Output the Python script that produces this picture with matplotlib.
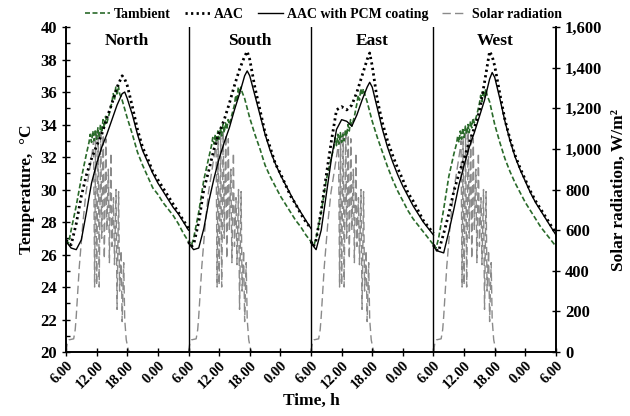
import numpy as np
import matplotlib
matplotlib.use('Agg')
import matplotlib.pyplot as plt
from matplotlib.ticker import MultipleLocator, FixedLocator

plt.rcParams['font.family'] = ['Liberation Serif', 'DejaVu Serif']
plt.rcParams['font.weight'] = 'bold'

panels = ['North', 'South', 'East', 'West']

# hours after 6:00, ambient temperature (finer where the record is noisy)
t_amb = [0, 0.5, 1, 2, 3, 4, 4.5, 4.75, 5, 5.25, 5.5, 5.75, 6, 6.25, 6.5, 6.75,
         7, 7.25, 7.5, 7.75, 8, 8.5, 9, 9.25, 9.5, 9.75, 10, 10.25, 10.5, 11,
         12, 13, 14, 15, 16, 17, 18, 19, 20, 21, 22, 23, 24]
amb_north = [26.9, 26.7, 27.5, 29.0, 30.7, 32.2, 32.9, 33.4, 32.9, 33.6, 33.0, 33.7, 33.1, 33.8, 33.2, 34.0,
             33.5, 34.3, 33.8, 34.5, 34.1, 34.7, 35.4, 35.9, 35.5, 36.3, 35.8, 36.4, 35.9, 35.5,
             34.4, 33.4, 32.3, 31.5, 30.8, 30.1, 29.7, 29.2, 28.8, 28.4, 27.9, 27.3, 26.8]
amb_south = [26.8, 26.5, 27.0, 28.6, 30.6, 32.0, 32.7, 33.2, 32.8, 33.4, 32.9, 33.6, 33.1, 33.8, 33.3, 34.0,
             33.5, 34.1, 33.7, 34.3, 34.0, 34.6, 35.2, 35.8, 35.4, 36.3, 35.9, 36.3, 36.0, 35.6,
             34.4, 33.4, 32.5, 31.5, 30.8, 30.2, 29.6, 29.1, 28.6, 28.1, 27.7, 27.2, 26.8]
amb_east = [26.8, 26.5, 27.0, 28.6, 30.6, 32.0, 32.6, 33.2, 32.7, 33.4, 32.8, 33.5, 32.9, 33.4, 33.0, 33.7,
            33.3, 34.0, 33.6, 34.3, 33.9, 34.5, 35.3, 35.8, 35.5, 36.2, 35.8, 36.2, 35.9, 35.4,
            34.2, 33.2, 32.3, 31.4, 30.6, 29.9, 29.3, 28.7, 28.2, 27.8, 27.4, 27.0, 26.6]
amb_west = [26.6, 26.4, 27.0, 28.8, 30.8, 32.2, 32.8, 33.3, 32.9, 33.6, 33.1, 33.8, 33.2, 33.9, 33.4, 34.0,
            33.5, 34.2, 33.8, 34.4, 34.1, 34.6, 35.3, 35.8, 35.4, 36.1, 35.7, 36.2, 35.8, 35.4,
            34.0, 32.9, 31.9, 31.1, 30.4, 29.8, 29.2, 28.7, 28.2, 27.7, 27.3, 26.9, 26.5]

# hours after 6:00 for the wall surface temperatures
t_wall = [0, 0.5, 1, 2, 3, 4, 5, 6, 7, 8, 9, 10, 11, 11.5,
          12, 13, 14, 15, 16, 17, 18, 19, 20, 21, 22, 23, 24]
aac_north = [26.9, 26.7, 26.6, 27.9, 29.6, 30.9, 31.9, 32.7, 33.4, 34.4, 35.3, 36.3, 37.0, 36.8,
             36.4, 35.1, 33.7, 32.6, 31.9, 31.1, 30.6, 30.1, 29.6, 29.1, 28.6, 28.1, 27.6]
aac_south = [26.8, 26.5, 26.6, 28.0, 30.0, 31.2, 32.5, 33.5, 34.3, 35.3, 36.4, 37.4, 38.2, 38.5,
             38.0, 36.3, 34.9, 33.5, 32.6, 31.6, 31.0, 30.3, 29.6, 29.1, 28.5, 28.0, 27.6]
aac_east = [26.8, 26.5, 26.9, 28.7, 30.9, 33.0, 34.9, 35.1, 34.9, 35.2, 36.0, 37.0, 38.0, 38.4,
            37.6, 35.5, 34.1, 33.0, 32.1, 31.3, 30.6, 29.8, 29.3, 28.7, 28.1, 27.7, 27.3]
aac_west = [26.6, 26.3, 26.2, 27.3, 28.5, 29.9, 31.0, 31.9, 32.9, 33.8, 34.8, 36.6, 38.5, 38.2,
            37.6, 35.9, 34.3, 33.1, 32.1, 31.3, 30.6, 29.9, 29.3, 28.8, 28.3, 27.8, 27.3]
pcm_north = [26.8, 26.6, 26.4, 26.3, 26.9, 28.6, 30.4, 31.6, 32.6, 33.4, 34.3, 35.2, 35.9, 36.0,
             35.6, 34.6, 33.4, 32.4, 31.7, 31.0, 30.4, 29.9, 29.4, 28.9, 28.5, 28.0, 27.5]
pcm_south = [26.7, 26.5, 26.3, 26.4, 27.6, 29.3, 30.7, 31.9, 32.9, 33.8, 34.9, 35.9, 37.0, 37.3,
             37.0, 35.8, 34.6, 33.4, 32.4, 31.6, 30.9, 30.3, 29.7, 29.1, 28.6, 28.1, 27.6]
pcm_east = [26.8, 26.5, 26.3, 27.5, 29.7, 31.9, 33.7, 34.3, 34.2, 33.9, 34.6, 35.5, 36.3, 36.6,
            36.3, 35.0, 33.7, 32.6, 31.7, 30.9, 30.2, 29.6, 29.0, 28.5, 28.0, 27.6, 27.2]
pcm_west = [26.5, 26.3, 26.2, 26.1, 27.4, 28.8, 30.3, 31.5, 32.6, 33.5, 34.5, 35.5, 36.8, 37.2,
            36.9, 35.6, 34.2, 33.0, 32.0, 31.2, 30.5, 29.8, 29.2, 28.7, 28.2, 27.7, 27.2]

# solar radiation, same day record for every orientation
t_sol = [0, 0.3, 0.6, 1.5, 1.8, 2.0, 2.6, 3.3, 3.9, 4.6, 5.2, 5.4,
         5.6, 5.8, 6.0, 6.3, 6.5, 6.8, 7.0, 7.3, 7.5, 7.8, 8.0, 8.3, 8.5, 8.8,
         9.0, 9.3, 9.5, 9.8, 10.0, 10.3, 10.5, 10.8, 11.0, 11.3, 11.5, 11.8,
         12.2, 12.5, 24]
solar = [0, 50, 60, 65, 110, 175, 420, 635, 783, 896, 995, 1040,
         320, 1060, 330, 1080, 320, 1090, 560, 1070, 460, 1050, 600, 900, 440, 980,
         520, 760, 430, 800, 210, 790, 300, 500, 150, 440, 160, 60,
         10, 0, 0]

amb = [amb_north, amb_south, amb_east, amb_west]
aac = [aac_north, aac_south, aac_east, aac_west]
pcm = [pcm_north, pcm_south, pcm_east, pcm_west]

green = '#2a6a2a'
grey = '#8a8a8a'

fig = plt.figure(figsize=(6.3, 4.16), dpi=100)
ax = fig.add_axes([0.1048, 0.1538, 0.7777, 0.7812])
ax2 = ax.twinx()
ax.set_zorder(ax2.get_zorder() + 1)
ax.patch.set_visible(False)

for i in range(4):
    off = 24 * i
    ls, = ax2.plot(np.array(t_sol) + off, solar, color=grey, lw=1.0,
                   linestyle=(0, (6, 3)))
    la, = ax.plot(np.array(t_amb) + off, amb[i], color=green, lw=1.2,
                  linestyle=(0, (3, 1.5)))
    lb, = ax.plot(np.array(t_wall) + off, aac[i], color='black', lw=2.0,
                  linestyle=(0, (0.8, 1.2)))
    lc, = ax.plot(np.array(t_wall) + off, pcm[i], color='black', lw=1.0)
    ax.text(off + 12, 39.65, panels[i], ha='center', va='top',
            fontsize=12.5, fontweight='bold')
    if i > 0:
        ax.axvline(off, color='black', lw=1.0)

ax.set_xlim(0, 96)
ax.set_ylim(20, 40)
ax2.set_ylim(0, 1600)

ax.set_xticks(np.arange(0, 97, 6))
ax.set_xticklabels(['6.00', '12.00', '18.00', '0.00'] * 4 + ['6.00'],
                   rotation=45, ha='right', rotation_mode='anchor', fontsize=10.5)
ax.yaxis.set_major_locator(MultipleLocator(2))
ax.yaxis.set_minor_locator(MultipleLocator(1))
ax2.yaxis.set_major_locator(FixedLocator(range(0, 1601, 200)))
ax2.set_yticklabels(['{:,}'.format(v) for v in range(0, 1601, 200)])

ax.tick_params(axis='x', direction='inout', length=6, width=1, pad=2)
ax.tick_params(axis='y', which='major', direction='inout', length=6, width=1, labelsize=12)
ax.tick_params(axis='y', which='minor', direction='in', length=3, width=1)
ax2.tick_params(axis='y', direction='inout', length=6, width=1, labelsize=12)

for a in (ax, ax2):
    a.spines['top'].set_visible(False)
    for s in ['left', 'right', 'bottom']:
        a.spines[s].set_linewidth(1.2)

ax.set_xlabel('Time, h', fontsize=12.5, fontweight='bold', labelpad=1)
ax.set_ylabel('Temperature,  \u00b0C', fontsize=12.5, fontweight='bold', labelpad=4)
ax2.set_ylabel('Solar radiation, W/m\u00b2', fontsize=12.5, fontweight='bold', labelpad=6)

fig.legend([la, lb, lc, ls],
           ['Tambient', 'AAC', 'AAC with PCM coating', 'Solar radiation'],
           loc='upper left', bbox_to_anchor=(0.115, 1.012), ncol=4, frameon=False,
           handlelength=1.8, handletextpad=0.3, columnspacing=1.0,
           prop={'weight': 'bold', 'size': 10})

fig.savefig('out.png', dpi=100)
